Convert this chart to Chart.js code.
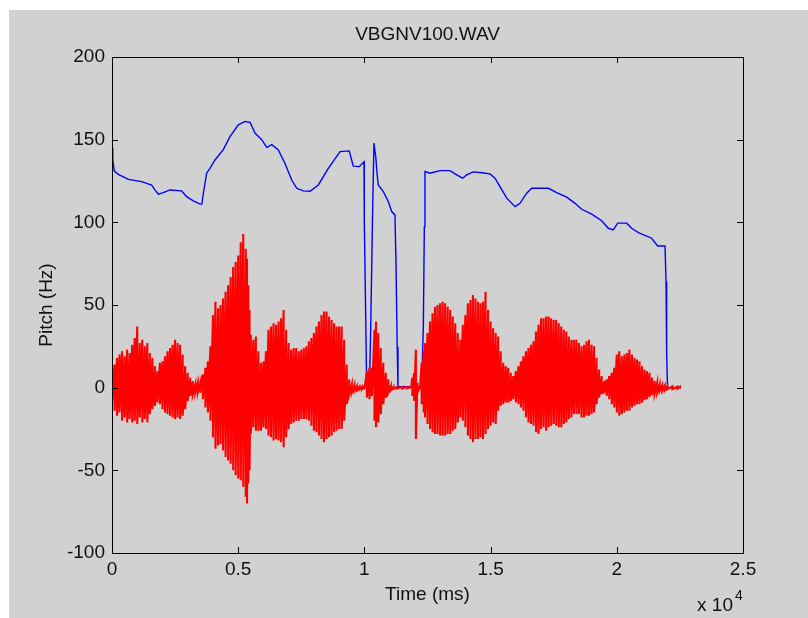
<!DOCTYPE html>
<html><head><meta charset="utf-8">
<script src="https://cdn.jsdelivr.net/npm/chart.js@4.4.1/dist/chart.umd.min.js"></script>
<style>
html,body{margin:0;padding:0;background:#fff;}
#wrap{position:absolute;left:9px;top:10px;width:799px;height:608px;background:#d1d1d1;}
canvas{display:block;}
</style></head><body>
<div id="wrap"><canvas id="c" width="799" height="608"></canvas></div>
<script>
// ---- data (time in ms) ----
const chartTitle = 'VBGNV100.WAV';
const pitchTime = [0,30,90,250,650,1175,1570,1700,1835,2030,2300,2760,2960,3220,3490,3560,3620,3750,3880,4080,4410,4675,5005,5270,5470,5665,5930,6130,6330,6590,6850,7120,7320,7580,7845,8175,8570,9035,9400,9560,9800,9985,9995,10060,10090,10200,10250,10330,10380,10410,10450,10500,10550,10750,10950,11080,11210,11250,11300,11330,12270,12335,12375,12400,12600,13000,13390,13660,13890,14050,14315,14650,14975,15175,15370,15640,15970,16165,16430,16630,17290,17620,18015,18345,18610,19005,19400,19665,19860,20035,20390,20590,20855,21380,21620,21910,21950,21975,22010,22545];
const pitchHz = [145,138,131,129,126,124.6,122.6,119.6,117,118,119.6,119,115.5,113,111,111,117.6,129.7,132.7,137.7,144,151.8,159,161,160.5,154,150,145.4,147,143.8,135.7,125.6,120.6,119,118.8,122.6,132.7,142.8,143.2,134,133.7,136.7,102.5,34,0.6,0.6,36,110.5,148,144,139.8,129.7,122.6,118.6,112.5,106.5,104.5,77.3,24.8,0.6,0.6,37,97.4,130.7,129.7,131.3,131.3,128.7,126.7,128.7,130.5,130,129.3,126.7,121.6,114.6,109.5,111.5,117.6,120.6,120.6,118,115.2,111.5,107.9,105,101,96.4,95.4,99.5,99.5,96.4,93.8,90.4,85.7,85.7,64,20.8,0.2,0];

const waveTime = [
 0,100,200,300,400,500,600,700,800,900,
 1000,1100,1200,1300,1400,1500,1600,1700,1800,1900,
 2000,2100,2200,2300,2400,2500,2600,2700,2800,2900,
 3000,3100,3200,3300,3400,3500,3600,3700,3800,3900,
 4000,4100,4200,4300,4400,4500,4600,4700,4800,4900,
 5000,5100,5200,5300,5350,5400,5450,5500,5600,5700,
 5800,5900,6000,6100,6200,6300,6400,6500,6600,6700,
 6800,6900,7000,7100,7200,7300,7400,7500,7600,7700,
 7800,7900,8000,8100,8200,8300,8400,8500,8600,8700,
 8800,8900,9000,9100,9200,9300,9400,9500,9600,9700,
 9800,9900,10000,10100,10200,10300,10400,10460,10550,10650,
 10750,10850,10950,11050,11150,11300,11500,11700,11850,11900,
 11970,12040,12100,12200,12270,12350,12400,12500,12600,12700,
 12800,12900,13000,13100,13200,13300,13400,13500,13600,13700,
 13800,13900,14000,14100,14200,14300,14400,14500,14600,14700,
 14800,14900,15000,15100,15200,15300,15400,15500,15600,15700,
 15800,15900,16000,16100,16200,16300,16400,16500,16600,16700,
 16800,16900,17000,17100,17200,17300,17400,17500,17600,17700,
 17800,17900,18000,18100,18200,18300,18400,18500,18600,18700,
 18800,18900,19000,19100,19200,19300,19400,19500,19600,19700,
 19800,19900,20000,20100,20200,20300,20400,20500,20600,20700,
 20800,20900,21000,21100,21200,21300,21400,21500,21600,21700,
 21800,21900,22000,22200,22400,22500];
const waveUpper = [
 11,14,18,20,22,19,23,21,26,30,
 37,27,29,25,27,21,18,13,10,15,
 16,19,22,24,26,29,27,26,20,13,
 9,6,4,2,3,3,8,12,16,25,
 44,52,48,50,54,58,62,67,73,76,
 80,88,93,84,78,62,47,32,29,31,
 22,15,16,22,35,37,39,38,40,42,
 47,35,27,23,24,24,22,23,24,25,
 28,30,33,37,40,44,46,46,43,41,
 39,37,37,37,29,14,5,2,1.5,1,
 0.6,0.6,1,10,12,12,35,40,33,24,
 15,9,5,1,0.5,0.5,0.5,0.5,0.5,6,
 9,23,3,1,15,22,27,33,40,45,
 49,50,51,52,51,49,47,43,39,33,
 29,38,44,51,53,56,54,52,51,52,
 58,47,40,36,33,31,22,15,13,12,
 9,7,10,13,16,19,22,24,26,28,
 34,38,42,42,43,43,42,41,41,39,
 37,35,34,31,29,29,29,27,25,26,
 28,29,26,25,18,11,7,4,5,7,
 9,12,20,22,19,20,21,23,20,18,
 17,16,13,11,10,9,6,4,3,2,
 1.5,1.2,1,0.8,0.6,0.5];
const waveLower = [
 -9,-14,-17,-15,-20,-18,-21,-19,-21,-20,
 -22,-18,-21,-19,-21,-16,-13,-11,-9,-10,
 -13,-15,-16,-17,-18,-19,-18,-19,-17,-13,
 -8,-5,-4,-3,-3,-3,-7,-12,-15,-20,
 -30,-37,-35,-34,-38,-42,-44,-46,-50,-53,
 -55,-56,-60,-66,-70,-58,-50,-28,-24,-26,
 -26,-26,-24,-25,-29,-30,-32,-31,-32,-33,
 -36,-30,-25,-22,-21,-20,-20,-19,-19,-19,
 -20,-23,-26,-27,-29,-31,-33,-31,-30,-29,
 -27,-26,-25,-25,-20,-10,-4,-3,-2,-1.5,
 -1,-1,-1,-6,-7,-5,-20,-24,-21,-16,
 -10,-6,-3,-1.5,-0.8,-0.5,-0.5,-0.5,-0.5,-5,
 -8,-31,-3,-1,-10,-15,-18,-22,-25,-27,
 -28,-28,-29,-29,-29,-28,-28,-26,-25,-21,
 -18,-20,-24,-29,-31,-33,-31,-31,-30,-31,
 -28,-25,-23,-21,-22,-14,-11,-10,-9,-9,
 -8,-7,-9,-10,-12,-14,-18,-21,-22,-23,
 -27,-28,-25,-24,-26,-24,-23,-22,-23,-24,
 -24,-22,-21,-19,-18,-16,-16,-16,-18,-18,
 -17,-17,-16,-15,-10,-6,-4,-3.5,-5,-7,
 -10,-12,-15,-17,-16,-15,-14,-14,-12,-11,
 -10,-10,-9,-7.5,-7,-5.5,-4.5,-3.5,-3,-2,
 -2,-1.5,-1,-0.8,-0.6,-0.5];

const xTicks = [0,5000,10000,15000,20000,25000];
const xTickLabels = ['0','0.5','1','1.5','2','2.5'];
const yTicks = [-100,-50,0,50,100,150,200];
const xLabel = 'Time (ms)';
const yLabel = 'Pitch (Hz)';
const xExponentBase = 'x 10';
const xExponent = '4';

// ---- chart ----
const FONT = '"Liberation Sans", Arial, Helvetica, sans-serif';
const pts = (xs, ys) => xs.map((t, i) => ({x: t, y: ys[i]}));
// waveform drawn as a trace that swings from each upper sample to its lower sample
const wavePts = waveTime.flatMap((t, i) => [{x: t, y: waveUpper[i]}, {x: t, y: waveLower[i]}]);

const matlabAxes = {
  id: 'matlabAxes',
  afterDraw(chart) {
    const {ctx, chartArea: a} = chart;
    const xs = chart.scales.x, ys = chart.scales.y;
    ctx.save();
    ctx.strokeStyle = '#000';
    ctx.lineWidth = 1;
    ctx.strokeRect(a.left + 0.5, a.top + 0.5, a.right - a.left, a.bottom - a.top);
    ctx.beginPath();
    xTicks.forEach(v => {
      const p = Math.round(xs.getPixelForValue(v)) + 0.5;
      ctx.moveTo(p, a.bottom); ctx.lineTo(p, a.bottom - 6);
      ctx.moveTo(p, a.top); ctx.lineTo(p, a.top + 6);
    });
    yTicks.forEach(v => {
      const p = Math.round(ys.getPixelForValue(v)) + 0.5;
      ctx.moveTo(a.left, p); ctx.lineTo(a.left + 6, p);
      ctx.moveTo(a.right, p); ctx.lineTo(a.right - 6, p);
    });
    ctx.stroke();
    ctx.fillStyle = '#111';
    ctx.font = '19px ' + FONT;
    ctx.textAlign = 'right';
    ctx.textBaseline = 'alphabetic';
    ctx.fillText(xExponentBase, a.right - 10, a.bottom + 58);
    ctx.font = '14px ' + FONT;
    ctx.textAlign = 'left';
    ctx.fillText(xExponent, a.right - 8, a.bottom + 47);
    ctx.restore();
  }
};

new Chart(document.getElementById('c'), {
  type: 'line',
  data: {
    datasets: [
      {label: 'pitch', data: pts(pitchTime, pitchHz), borderColor: '#0000ff', borderWidth: 1.4, pointRadius: 0, fill: false, order: 1, tension: 0},
      {label: 'wave', data: wavePts, borderColor: '#ff0000', borderWidth: 2.1, pointRadius: 0, fill: false, order: 0, tension: 0}
    ]
  },
  options: {
    responsive: false,
    animation: false,
    events: [],
    layout: {padding: {left: 0, top: 0, right: 65, bottom: 0}},
    plugins: {
      legend: {display: false},
      tooltip: {enabled: false},
      title: {display: true, text: chartTitle, fullSize: false, color: '#111',
              font: {family: FONT, size: 19, weight: 'normal'}, padding: {top: 13.6, bottom: 10.6}}
    },
    scales: {
      x: {
        type: 'linear', min: 0, max: 25000,
        afterFit: s => { s.height = 65; },
        afterBuildTicks: s => { s.ticks = xTicks.map(v => ({value: v})); },
        grid: {display: false, drawTicks: false},
        border: {display: false},
        ticks: {color: '#111', padding: 5.6, maxRotation: 0, autoSkip: false,
                font: {family: FONT, size: 19},
                callback: v => xTickLabels[xTicks.indexOf(v)]},
        title: {display: true, text: xLabel, color: '#111', font: {family: FONT, size: 19}, padding: {top: 0, bottom: 11.6}}
      },
      y: {
        type: 'linear', min: -100, max: 200,
        afterFit: s => { s.width = 103; },
        afterBuildTicks: s => { s.ticks = yTicks.map(v => ({value: v})); },
        grid: {display: false, drawTicks: false},
        border: {display: false},
        ticks: {color: '#111', padding: 7, autoSkip: false, font: {family: FONT, size: 19}},
        title: {display: true, text: yLabel, color: '#111', font: {family: FONT, size: 19}, padding: {top: 26, bottom: 0}}
      }
    }
  },
  plugins: [matlabAxes]
});
</script>
</body></html>
